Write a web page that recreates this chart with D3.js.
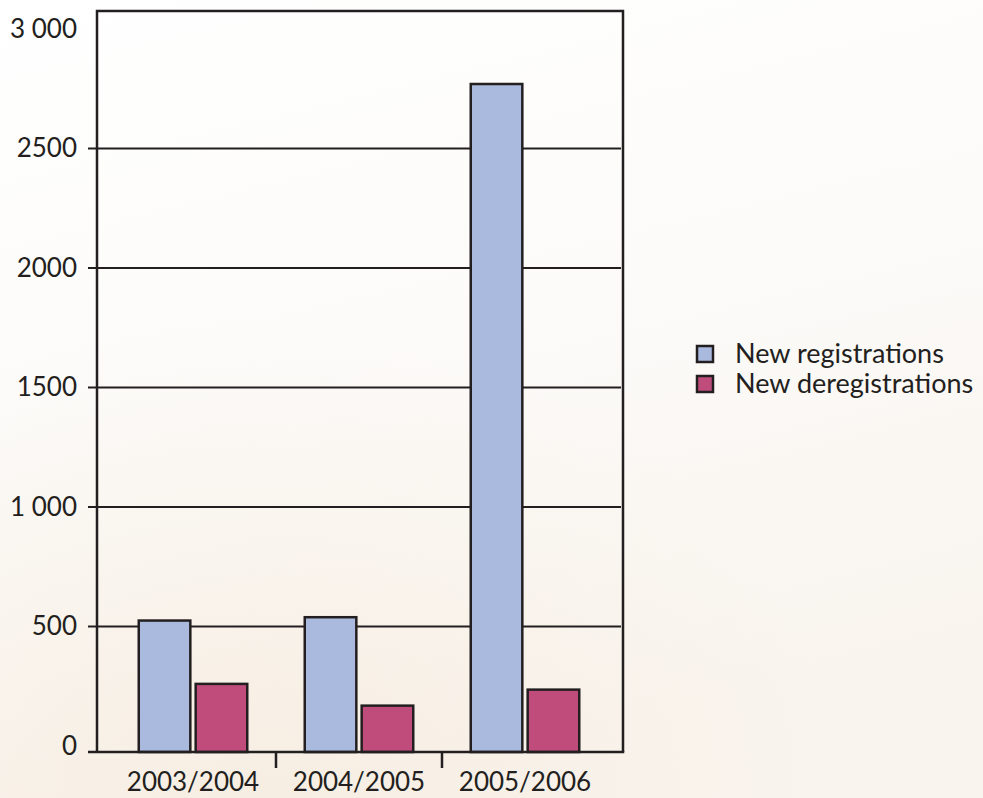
<!DOCTYPE html>
<html>
<head>
<meta charset="utf-8">
<script src="https://cdn.jsdelivr.net/npm/d3@7"></script>
<style>
  html, body { margin: 0; padding: 0; background: #ffffff; }
  svg { display: block; }
  text { font-family: "Lato", "Open Sans", "DejaVu Sans", sans-serif; fill: #231f20; }
</style>
</head>
<body>
<svg id="chart" width="983" height="798"></svg>
<script>
// Registrations per financial year
const categories = ["2003/2004", "2004/2005", "2005/2006"];
const seriesNames = ["New registrations", "New deregistrations"];
const registrations = [528, 542, 2773];
const deregistrations = [263, 172, 239];
const tickValues = [0, 500, 1000, 1500, 2000, 2500, 3000];
const tickLabels = ["0", "500", "1 000", "1500", "2000", "2500", "3 000"];
const colors = ["#aab9de", "#c04c7c"];

const svg = d3.select("#chart");
const W = 983, H = 798;
const ink = "#231f20";
const fontSize = 26;

// pale paper background, slightly warmer towards the lower left
const defs = svg.append("defs");
const bg = defs.append("linearGradient").attr("id", "bg")
  .attr("x1", "0").attr("y1", "0").attr("x2", "0.3").attr("y2", "1");
bg.append("stop").attr("offset", "0").attr("stop-color", "#ffffff");
bg.append("stop").attr("offset", "0.5").attr("stop-color", "#fcfbf9");
bg.append("stop").attr("offset", "1").attr("stop-color", "#f9f4ee");
const warm = defs.append("radialGradient").attr("id", "warm")
  .attr("cx", "0.25").attr("cy", "1").attr("r", "0.6");
warm.append("stop").attr("offset", "0").attr("stop-color", "#f4e6d4").attr("stop-opacity", 0.45);
warm.append("stop").attr("offset", "1").attr("stop-color", "#f4e6d4").attr("stop-opacity", 0);
svg.append("rect").attr("width", W).attr("height", H).attr("fill", "url(#bg)");
svg.append("rect").attr("width", W).attr("height", H).attr("fill", "url(#warm)");

// plot frame
const frame = { left: 97, right: 623, top: 11, base: 752 };

const y = d3.scaleLinear().domain([0, 3000]).range([745.5, 28.5]);
const x = d3.scaleBand().domain(categories).range([110, 608]).paddingInner(0).paddingOuter(0);
const inner = d3.scaleBand().domain(seriesNames).range([0, 111]).paddingInner(0.05);
const groupOffset = (x.bandwidth() - 111) / 2;

// gridlines, extending a little left of the frame as ticks
svg.append("g")
  .attr("transform", `translate(${frame.right - 2},0)`)
  .call(d3.axisLeft(y).tickValues(tickValues.filter(v => v > 0 && v < 3000))
    .tickSize(frame.right - 2 - frame.left + 9).tickFormat(""))
  .call(g => g.select(".domain").remove())
  .call(g => g.selectAll("line").attr("stroke", ink).attr("stroke-width", 2));

// y tick labels
svg.append("g").selectAll("text").data(tickValues).join("text")
  .attr("x", 77)
  .attr("y", d => y(d) + 9)
  .attr("text-anchor", "end")
  .attr("font-size", fontSize)
  .text((d, i) => tickLabels[i]);

// bars
const groups = svg.append("g").selectAll("g").data(categories).join("g")
  .attr("transform", d => `translate(${x(d) + groupOffset},0)`);
groups.selectAll("rect")
  .data((d, i) => [
    { s: seriesNames[0], v: registrations[i], c: colors[0] },
    { s: seriesNames[1], v: deregistrations[i], c: colors[1] }
  ])
  .join("rect")
  .attr("x", d => inner(d.s) + 1.25)
  .attr("width", inner.bandwidth() - 2.5)
  .attr("y", d => y(d.v) + 1.25)
  .attr("height", d => frame.base - y(d.v) - 1.25)
  .attr("fill", d => d.c)
  .attr("stroke", ink)
  .attr("stroke-width", 2.5);

// frame: left, top, right
svg.append("path")
  .attr("d", `M${frame.left},${frame.base} V${frame.top} H${frame.right} V${frame.base}`)
  .attr("fill", "none").attr("stroke", ink).attr("stroke-width", 2.5);

// baseline with left tick
svg.append("line")
  .attr("x1", 88).attr("x2", frame.right + 1.25)
  .attr("y1", frame.base).attr("y2", frame.base)
  .attr("stroke", ink).attr("stroke-width", 2.5);

// category separators below the baseline
svg.append("g").selectAll("line").data(categories.slice(1)).join("line")
  .attr("x1", d => x(d)).attr("x2", d => x(d))
  .attr("y1", frame.base).attr("y2", 768)
  .attr("stroke", ink).attr("stroke-width", 2.5);

// category labels
svg.append("g").selectAll("text").data(categories).join("text")
  .attr("x", d => x(d) + x.bandwidth() / 2)
  .attr("y", 791)
  .attr("text-anchor", "middle")
  .attr("font-size", fontSize)
  .text(d => d);

// legend
const legend = svg.append("g").attr("transform", "translate(697,346)");
const items = legend.selectAll("g").data(seriesNames).join("g")
  .attr("transform", (d, i) => `translate(0,${i * 30})`);
items.append("rect")
  .attr("width", 16).attr("height", 16)
  .attr("fill", (d, i) => colors[i])
  .attr("stroke", ink).attr("stroke-width", 2.5);
items.append("text")
  .attr("x", 38).attr("y", 17)
  .attr("font-size", 27)
  .text(d => d);
</script>
</body>
</html>
